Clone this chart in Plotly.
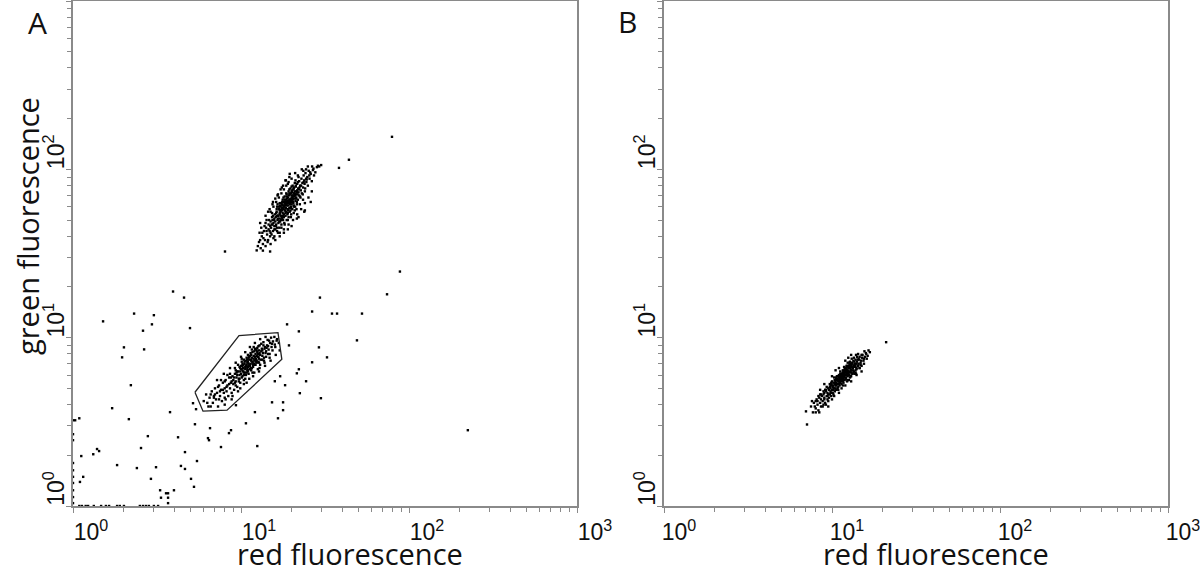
import plotly.graph_objects as go

# panel A, upper population (red, green)
upper_x = [12.4, 12.8, 13.1, 13.3, 13.5, 13.7, 13.9, 14.0, 14.1, 14.3, 14.5, 14.6, 14.8, 14.9, 15.0, 15.1, 15.2, 15.3, 15.4, 15.5,
           15.6, 15.7, 15.8, 15.9, 16.0, 16.0, 16.1, 16.2, 16.3, 16.4, 16.5, 16.6, 16.7, 16.8, 16.9, 17.0, 17.0, 17.1, 17.2, 17.3,
           17.4, 17.5, 17.5, 17.6, 17.7, 17.8, 17.9, 18.0, 18.0, 18.1, 18.2, 18.3, 18.4, 18.5, 18.5, 18.6, 18.7, 18.8, 18.9, 19.0,
           19.0, 19.1, 19.2, 19.3, 19.4, 19.5, 19.5, 19.6, 19.7, 19.8, 19.9, 20.0, 20.0, 20.1, 20.2, 20.3, 20.4, 20.5, 20.6, 20.7,
           20.8, 20.9, 21.0, 21.1, 21.2, 21.3, 21.4, 21.5, 21.6, 21.7, 21.8, 21.9, 22.0, 22.2, 22.4, 22.5, 22.7, 22.9, 23.0, 23.2,
           23.4, 23.6, 23.8, 24.0, 24.2, 24.5, 24.8, 25.0, 25.3, 25.6, 26.0, 26.4, 26.8, 27.2, 27.7, 28.3, 28.7, 29.2, 30.0, 26.5,
           17.2, 17.6, 18.1, 18.4, 18.9, 19.2, 19.6, 20.1, 20.4, 20.9, 17.8, 18.3, 18.7, 19.1, 19.5, 19.9, 20.3, 20.8, 21.2, 21.6,
           16.6, 17.0, 17.4, 17.9, 18.3, 18.8, 19.3, 19.8, 20.2, 20.7, 16.2, 16.8, 17.3, 17.7, 18.2, 18.6, 19.2, 19.7, 20.3, 20.9,
           15.4, 16.1, 16.9, 17.6, 18.4, 19.1, 19.8, 20.5, 21.3, 22.1, 14.2, 14.9, 15.6, 16.4, 17.3, 18.0, 18.9, 19.7, 20.6, 21.5,
           22.6, 23.3, 24.1, 21.0, 22.3, 23.9, 24.6, 25.5, 13.6, 14.4, 15.0, 15.8, 13.8, 14.7, 15.5, 16.3, 17.1, 17.9, 18.7, 19.4,
           20.0, 21.1, 22.0, 15.3, 16.5, 14.0, 12.9, 19.0, 25.0, 23.5, 13.5, 14.9,
           14.2, 15.0, 15.6, 16.2, 16.8, 17.4, 18.0, 18.6, 19.2, 20.0, 15.8, 16.6, 17.4, 18.2, 19.0, 19.8, 20.6, 21.4, 22.4, 23.4,
           13.2, 14.0, 14.8, 15.4, 16.0, 16.6, 17.2, 17.8, 18.4, 19.4, 17.0, 18.0, 19.2, 20.4, 21.6, 22.8, 24.0, 25.2, 26.4, 24.4,
           16.4, 17.0, 17.6, 18.2, 18.8, 19.4, 20.0, 20.6, 21.2, 21.8, 16.7, 17.3, 17.9, 18.5, 19.1, 19.7, 20.3, 20.9, 21.5, 22.1,
           15.2, 15.8, 16.4, 17.0, 17.6, 18.2, 18.8, 19.4, 20.0, 20.6, 13.0, 13.4, 12.6, 14.6, 22.8, 23.6, 24.4, 25.8, 27.0, 21.8,
           14.5, 15.5, 16.5, 17.5, 18.5, 19.5, 16.0, 18.0, 20.0, 22.0, 24.0, 26.0, 13.0, 21.0, 23.0, 15.0, 17.0, 19.0, 21.5, 23.8]
upper_y = [33, 37, 34, 40, 36, 43, 38, 35, 45, 41, 38, 47, 43, 40, 49, 45, 41, 52, 47, 43,
           39, 50, 46, 54, 44, 49, 52, 47, 56, 43, 50, 53, 48, 58, 45, 51, 55, 49, 60, 53,
           47, 57, 52, 62, 55, 50, 58, 54, 64, 48, 57, 61, 53, 66, 59, 56, 50, 63, 58, 55,
           68, 61, 52, 65, 59, 71, 56, 63, 67, 60, 54, 66, 62, 73, 58, 69, 64, 76, 61, 67,
           72, 57, 70, 65, 79, 68, 74, 62, 82, 71, 66, 77, 73, 85, 69, 80, 75, 88, 72, 83,
           78, 92, 86, 74, 95, 84, 90, 80, 98, 88, 94, 85, 99, 92, 96, 103, 105, 104, 106, 104,
           56, 59, 60, 62, 65, 63, 66, 68, 70, 74, 53, 57, 61, 58, 62, 64, 66, 69, 71, 75,
           51, 54, 58, 61, 64, 67, 70, 72, 75, 78, 55, 60, 63, 66, 69, 72, 74, 77, 80, 83,
           50, 46, 49, 51, 55, 57, 59, 63, 67, 70, 43, 46, 48, 45, 50, 52, 54, 57, 60, 64,
           68, 71, 77, 60, 78, 82, 87, 92, 39, 37, 42, 44, 46, 50, 53, 58, 61, 68, 71, 76,
           79, 86, 90, 55, 62, 48, 42, 82, 104, 98, 32.9, 32.5,
           50, 56, 60, 64, 68, 72, 76, 80, 84, 88, 40, 42, 45, 47, 50, 52, 55, 58, 62, 66,
           45, 53, 58, 62, 67, 71, 76, 80, 86, 90, 42, 44, 47, 50, 54, 58, 63, 68, 74, 100,
           60, 63, 64, 66, 69, 72, 74, 77, 80, 84, 53, 57, 59, 62, 64, 65, 67, 71, 73, 76,
           47, 51, 53, 57, 61, 63, 64, 66, 70, 72, 38, 42, 35, 44, 80, 84, 88, 96, 101, 92,
           56, 64, 70, 78, 86, 94, 38, 42, 46, 52, 57, 64, 48, 95, 100, 36, 40, 44, 51, 56]

# panel A, gated population
gated_x = [6.0, 6.2, 6.4, 6.5, 6.7, 6.8, 6.9, 7.0, 7.1, 7.2, 7.3, 7.4, 7.5, 7.6, 7.7, 7.8, 7.9, 8.0, 8.0, 8.1,
           8.2, 8.3, 8.4, 8.5, 8.6, 8.7, 8.8, 8.9, 9.0, 9.0, 9.1, 9.2, 9.3, 9.4, 9.5, 9.6, 9.7, 9.8, 9.9, 10.0,
           10.0, 10.1, 10.2, 10.3, 10.4, 10.5, 10.6, 10.7, 10.8, 10.9, 11.0, 11.0, 11.1, 11.2, 11.3, 11.4, 11.5, 11.6, 11.7, 11.8,
           11.9, 12.0, 12.1, 12.2, 12.3, 12.4, 12.5, 12.6, 12.7, 12.8, 13.0, 13.1, 13.3, 13.5, 13.7, 13.9, 14.1, 14.3, 14.6, 14.9,
           15.2, 15.5, 15.9, 16.3, 16.8, 7.6, 8.3, 9.2, 10.1, 10.8, 11.4, 12.1, 12.9, 8.8, 9.6, 10.4, 11.2, 12.0, 12.9, 13.8,
           14.8, 9.4, 9.9, 10.3, 10.7, 11.1, 11.5, 12.0, 12.5, 13.2, 9.1, 9.5, 9.9, 10.3, 10.7, 11.1, 11.5, 11.9, 12.4, 12.9,
           9.7, 10.2, 10.6, 11.0, 11.4, 11.8, 12.3, 12.8, 13.4, 14.0, 10.0, 10.5, 10.9, 11.3, 11.7, 12.2, 12.7, 13.6, 14.4, 15.1,
           8.6, 9.3, 10.1, 11.6, 13.0, 13.7, 14.5, 15.4, 16.0, 16.4, 7.0, 7.8, 8.5, 9.3, 10.6, 11.7, 12.6, 6.6, 7.4, 8.1,
           9.8, 10.4, 11.0, 11.9, 13.4, 14.2, 12.0, 11.3, 10.8, 10.2,
           7.2, 7.9, 8.6, 9.3, 10.0, 10.6, 11.3, 12.1, 13.0, 14.0, 8.0, 8.9, 9.9, 10.8, 11.8, 12.8, 13.9, 15.0, 16.1, 17.0,
           9.6, 10.2, 10.9, 11.5, 12.1, 12.6, 13.2, 13.8, 14.5, 15.3, 9.2, 9.8, 10.4, 11.0, 11.6, 12.2, 12.8, 13.4, 14.1, 14.8,
           10.4, 10.9, 11.3, 11.7, 12.2, 12.7, 11.1, 11.9, 10.6, 12.4, 6.3, 6.9, 7.5, 8.2, 8.8, 6.6, 7.3, 8.0, 8.7, 9.5,
           15.8, 14.7, 13.6, 12.4, 11.2]
gated_y = [4.2, 4.6, 3.9, 4.4, 4.8, 4.1, 4.5, 5.0, 4.3, 4.7, 3.9, 5.2, 4.5, 4.9, 4.2, 5.4, 4.7, 5.0, 4.4, 5.6,
           4.8, 5.2, 4.5, 5.8, 5.0, 5.4, 4.7, 5.9, 5.3, 5.6, 4.9, 6.1, 5.5, 5.8, 5.1, 6.3, 5.7, 6.0, 5.4, 6.5,
           6.1, 5.8, 6.8, 6.3, 5.6, 7.0, 6.5, 6.0, 6.9, 6.4, 7.2, 6.7, 6.1, 7.4, 6.8, 7.0, 6.4, 7.6, 7.1, 6.7,
           7.8, 7.3, 6.9, 8.0, 7.5, 7.1, 8.2, 7.7, 7.2, 8.4, 7.9, 7.4, 8.6, 8.1, 7.6, 8.8, 8.3, 9.0, 8.5, 9.3,
           8.8, 9.5, 9.1, 9.6, 9.3, 5.6, 6.0, 6.6, 7.2, 7.6, 8.1, 8.6, 9.0, 4.3, 4.8, 5.3, 5.7, 6.2, 6.6, 7.1,
           7.6, 6.2, 6.6, 6.9, 7.3, 7.6, 7.9, 8.3, 8.7, 9.2, 5.8, 6.0, 6.3, 6.6, 6.8, 7.0, 7.3, 7.5, 7.8, 8.1,
           5.5, 5.9, 6.2, 6.4, 6.6, 6.9, 7.2, 7.5, 7.8, 8.1, 6.8, 7.2, 7.4, 7.8, 8.2, 8.5, 8.9, 9.4, 9.7, 10.0,
           6.1, 6.4, 7.5, 8.5, 6.9, 7.3, 8.0, 8.4, 8.8, 9.8, 4.6, 4.9, 5.3, 5.2, 5.7, 6.2, 6.5, 3.9, 4.3, 4.3,
           6.7, 7.4, 7.9, 8.8, 8.4, 8.7, 7.0, 6.5, 6.2, 6.4,
           5.6, 6.1, 6.6, 7.1, 7.7, 8.2, 8.8, 9.3, 9.8, 10.1, 4.0, 4.5, 5.0, 5.4, 5.9, 6.3, 6.8, 7.3, 7.9, 8.4,
           6.9, 7.0, 7.1, 7.4, 7.7, 8.0, 8.3, 8.6, 8.9, 9.2, 5.4, 5.7, 6.0, 6.3, 6.6, 6.9, 7.1, 7.4, 7.7, 8.0,
           6.2, 6.6, 6.9, 7.2, 7.4, 7.7, 6.8, 7.0, 6.7, 7.3, 4.1, 4.4, 4.8, 5.1, 5.5, 4.6, 5.1, 5.5, 5.8, 6.3,
           10.1, 9.6, 9.0, 8.4, 7.7]

# panel A, events outside both populations (incl. events piled on the axes)
stray_x = [8.03, 3.94, 4.58, 74.0, 29.5, 26.5, 34.8, 37.3, 52.5, 2.31, 3.03, 1.51, 2.95, 2.61, 4.97, 18.8, 22.1, 2.01, 1.96, 2.65,
           19.3, 29.1, 49.0, 32.5, 26.5, 22.1, 21.5, 17.1, 15.9, 24.4, 18.3, 2.21, 22.4, 29.9, 15.3, 17.8, 17.8, 16.6, 12.1, 9.33,
           5.18, 5.40, 1.71, 3.78, 2.15, 1.09, 1.03, 5.32, 10.7, 6.54, 8.72, 8.48, 6.36, 6.45, 2.79, 4.22, 12.5, 7.60, 2.54, 1.39,
           1.43, 1.32, 1.12, 4.64, 5.47, 1.83, 2.40, 3.12, 4.39, 4.64, 1.15, 1.10, 2.91, 5.04, 5.25, 3.30, 3.58, 3.68, 3.99, 3.34,
           3.68, 3.68, 224, 88.3, 38.3, 43.9, 79.2,
           1.09, 1.13, 1.19, 1.23, 1.33, 1.47, 1.57, 1.64, 1.83, 1.90, 2.01, 2.50, 2.61, 2.72, 2.83, 3.03, 3.21,
           1.0, 1.0, 1.0, 1.0, 1.0, 1.0, 1.0, 1.0, 1.0, 1.0]
stray_y = [32.5, 18.8, 17.3, 18.1, 17.3, 14.3, 13.9, 13.9, 13.9, 13.9, 13.6, 12.5, 12.0, 11.0, 11.4, 12.0, 10.9, 8.76, 7.64, 8.52,
           9.0, 8.76, 9.64, 7.64, 7.14, 6.49, 6.14, 5.90, 5.51, 5.51, 5.22, 5.22, 4.68, 4.37, 4.13, 4.13, 3.71, 3.32, 3.61, 3.97,
           4.08, 3.76, 3.81, 3.61, 3.28, 3.32, 3.23, 3.06, 3.10, 2.90, 2.82, 2.71, 2.53, 2.46, 2.60, 2.56, 2.27, 2.24, 2.21, 2.18,
           2.12, 2.03, 1.98, 2.09, 1.85, 1.75, 1.68, 1.70, 1.73, 1.66, 1.49, 1.39, 1.45, 1.45, 1.30, 1.24, 1.19, 1.19, 1.24, 1.12,
           1.12, 1.04, 2.82, 24.7, 102, 114, 156,
           1.0, 1.0, 1.0, 1.0, 1.0, 1.0, 1.0, 1.0, 1.0, 1.0, 1.0, 1.0, 1.0, 1.0, 1.0, 1.0, 1.0,
           3.23, 2.67, 2.46, 1.80, 1.63, 1.49, 1.37, 1.24, 1.13, 1.04]

# gate drawn in panel A
gate_x = [5.32, 9.73, 16.6, 17.5, 8.26, 5.94, 5.32]
gate_y = [4.74, 10.3, 10.7, 7.44, 3.71, 3.66, 4.74]

# panel B
b_x = [7.5, 7.7, 7.8, 8.0, 8.1, 8.2, 8.3, 8.4, 8.5, 8.6, 8.7, 8.8, 8.9, 9.0, 9.0, 9.1, 9.2, 9.3, 9.4, 9.5,
       9.5, 9.6, 9.7, 9.8, 9.9, 10.0, 10.0, 10.1, 10.2, 10.3, 10.4, 10.5, 10.5, 10.6, 10.7, 10.8, 10.9, 11.0, 11.0, 11.1,
       11.2, 11.3, 11.4, 11.5, 11.5, 11.6, 11.7, 11.8, 11.9, 12.0, 12.0, 12.1, 12.2, 12.3, 12.4, 12.5, 12.6, 12.7, 12.8, 12.9,
       13.0, 13.2, 13.3, 13.5, 13.6, 13.8, 14.0, 14.2, 14.4, 14.6, 14.9, 15.2, 15.5, 15.9, 16.3, 16.8, 15.0, 13.9, 12.6, 11.4,
       10.3, 9.2, 8.4, 10.6, 11.2, 11.8, 12.4, 13.1, 13.9, 9.9, 10.4, 10.8, 11.2, 11.6, 12.0, 12.4, 12.8, 10.2, 10.6, 11.0,
       11.4, 11.8, 12.2, 12.6, 13.0, 11.1, 11.5, 11.9, 12.3, 12.7, 13.4, 14.1, 9.6, 10.1, 10.5, 10.9, 11.3, 11.7, 12.1, 12.5,
       12.9, 13.3, 13.7, 14.3, 14.8, 15.4, 9.4, 9.8, 10.2, 10.6, 11.0, 11.4, 11.8, 12.2, 12.6, 13.1, 13.6, 14.1, 8.6, 9.0,
       9.4, 9.8, 10.2, 10.7, 11.1, 11.6, 12.1, 12.6, 13.2, 13.8, 8.2, 8.9, 9.7, 10.4, 11.3, 12.3, 13.4, 14.5, 15.7, 16.5,
       7.9, 8.5, 9.1, 9.9, 10.9, 11.9, 13.0, 14.0, 15.1, 16.0, 10.0, 10.8, 11.7, 12.8, 13.6, 14.6, 11.3, 12.0, 12.9, 13.8,
       8.0, 8.6, 9.2, 9.8, 10.4, 11.0, 11.6, 12.2, 12.8, 13.5, 8.8, 9.5, 10.2, 10.9, 11.6, 12.3, 13.0, 13.8, 14.6, 15.5,
       10.7, 11.2, 11.7, 12.2, 12.7, 10.4, 10.9, 11.4, 11.9, 12.4, 10.0, 10.6, 11.1, 11.6, 12.1, 12.6, 13.2, 13.7, 14.4, 15.0,
       9.3, 9.7, 10.3, 8.9, 8.3, 14.8, 14.0, 13.4, 12.9, 12.4, 7.6, 8.0, 16.1, 15.6, 14.3,
       9.0, 10.0, 11.0, 12.0, 13.0, 10.0, 11.0, 12.0, 13.0, 14.0, 8.5, 15.0, 9.5, 10.5, 12.5,
       21.0, 7.0, 7.1]
b_y = [3.9, 3.6, 4.1, 3.8, 4.3, 4.0, 3.7, 4.4, 4.1, 3.9, 4.5, 4.2, 4.0, 4.7, 4.4, 4.1, 4.8, 4.5, 4.3, 5.0,
       4.6, 4.4, 5.1, 4.8, 4.5, 5.2, 4.9, 4.7, 5.4, 5.0, 4.8, 5.5, 5.2, 4.9, 5.6, 5.3, 5.1, 5.8, 5.5, 5.2,
       5.9, 5.6, 5.3, 6.1, 5.8, 5.5, 6.2, 5.9, 5.6, 6.4, 6.0, 5.7, 6.5, 6.2, 5.9, 6.7, 6.3, 6.0, 6.8, 6.5,
       6.2, 7.0, 6.6, 6.3, 7.2, 6.8, 6.5, 7.4, 7.0, 7.7, 7.3, 7.9, 7.5, 8.1, 7.8, 8.2, 6.8, 6.1, 5.6, 5.0,
       4.5, 4.0, 3.6, 5.8, 6.3, 6.7, 7.1, 7.5, 7.9, 5.4, 5.6, 5.7, 5.4, 5.9, 6.2, 6.4, 6.6, 5.2, 5.4, 5.3,
       5.7, 6.1, 6.3, 6.6, 6.9, 5.7, 6.0, 6.3, 6.8, 7.1, 7.3, 7.7, 4.9, 5.1, 5.0, 5.5, 5.5, 5.7, 6.0, 6.1,
       6.3, 6.4, 6.7, 6.8, 7.1, 7.3, 4.7, 5.0, 4.9, 5.2, 5.6, 5.9, 5.8, 6.1, 6.2, 6.7, 6.9, 7.2, 4.3, 4.3,
       4.5, 4.7, 5.0, 5.3, 5.4, 5.6, 5.8, 6.0, 6.1, 6.4, 4.2, 4.6, 4.6, 5.3, 5.8, 6.0, 6.8, 7.4, 7.7, 8.4,
       3.9, 4.6, 4.9, 5.3, 5.9, 6.5, 6.4, 7.0, 7.6, 8.0, 4.7, 5.0, 5.4, 5.8, 6.1, 6.6, 6.1, 6.6, 7.0, 7.4,
       4.2, 4.6, 4.9, 5.2, 5.6, 6.0, 6.4, 6.8, 7.2, 7.6, 3.9, 4.2, 4.6, 4.9, 5.2, 5.5, 5.9, 6.2, 6.6, 7.0,
       5.9, 6.1, 6.3, 6.6, 6.9, 5.4, 5.6, 5.8, 6.0, 6.3, 5.5, 5.7, 5.9, 6.2, 6.4, 6.8, 7.1, 7.0, 7.5, 7.9,
       5.1, 5.3, 5.8, 4.8, 4.5, 6.9, 6.6, 6.2, 5.9, 5.6, 4.2, 3.6, 7.5, 8.3, 8.0,
       5.3, 5.9, 6.6, 7.3, 7.9, 4.3, 4.7, 5.2, 5.5, 6.0, 4.9, 6.3, 3.9, 6.4, 7.6,
       9.4, 3.65, 3.05]

tick_vals = [1, 10, 100, 1000]
tick_text = ["10<sup>0</sup>", "10<sup>1</sup>", "10<sup>2</sup>", "10<sup>3</sup>"]
minor_vals = [m * 10 ** k for k in range(3) for m in range(2, 10)]

dot = dict(symbol="square", size=2.4, color="black")

fig = go.Figure()
for xs, ys in [(upper_x, upper_y), (gated_x, gated_y), (stray_x, stray_y)]:
    fig.add_trace(go.Scatter(x=xs, y=ys, mode="markers", marker=dot, cliponaxis=False,
                             xaxis="x", yaxis="y", showlegend=False))
fig.add_trace(go.Scatter(x=gate_x, y=gate_y, mode="lines", line=dict(color="#222", width=1.3),
                         xaxis="x", yaxis="y", showlegend=False))
fig.add_trace(go.Scatter(x=b_x, y=b_y, mode="markers", marker=dot, cliponaxis=False,
                         xaxis="x2", yaxis="y2", showlegend=False))

axis_common = dict(type="log", range=[0, 3], showgrid=False, zeroline=False, automargin=False,
                   showline=True, linecolor="#8a8a8a", linewidth=1.5, mirror=True,
                   ticks="outside", ticklen=5, tickcolor="#8a8a8a", tickwidth=1,
                   tickmode="array", tickvals=tick_vals, ticktext=tick_text,
                   tickfont=dict(family="Liberation Sans, Arial", size=23, color="#111"),
                   minor=dict(tickvals=minor_vals, ticks="outside", ticklen=4,
                              tickcolor="#8a8a8a", tickwidth=1, showgrid=False))

fig.update_layout(
    width=1200, height=578,
    margin=dict(l=0, r=0, t=1, b=72),
    paper_bgcolor="white", plot_bgcolor="white",
    xaxis=dict(axis_common, domain=[73 / 1200, 577 / 1200], anchor="y", ticklabelshift=18,
               ticklabeloverflow="allow"),
    yaxis=dict(axis_common, domain=[0, 1], anchor="x", tickangle=-90, ticklabelshift=-14,
               ticklabelstandoff=-7),
    xaxis2=dict(axis_common, domain=[664 / 1200, 1168 / 1200], anchor="y2", ticklabelshift=15,
                ticklabeloverflow="allow"),
    yaxis2=dict(axis_common, domain=[0, 1], anchor="x2", tickangle=-90, ticklabelshift=-14,
                ticklabelstandoff=-7),
)

plot_h = 578 - 1 - 72


def add_text(text, px, py, size, angle=0):
    # px, py: centre of the text in picture pixels
    fig.add_annotation(text=text, x=px / 1200, y=(578 - 72 - py) / plot_h, xref="paper", yref="paper",
                       xanchor="center", yanchor="middle", textangle=angle, showarrow=False,
                       font=dict(family="Open Sans", size=size, color="#111"))


add_text("red fluorescence", 350, 553, 29)
add_text("red fluorescence", 936, 553, 29)
add_text("green fluorescence", 28, 226, 29, angle=-90)
add_text("A", 37, 22, 30)
add_text("B", 627, 21, 30)

# drop the browser's default page margin so the figure sits at the window corner
fig.write_html("out.html", config={"displayModeBar": False},
               post_script="document.body.style.margin = '0';")
